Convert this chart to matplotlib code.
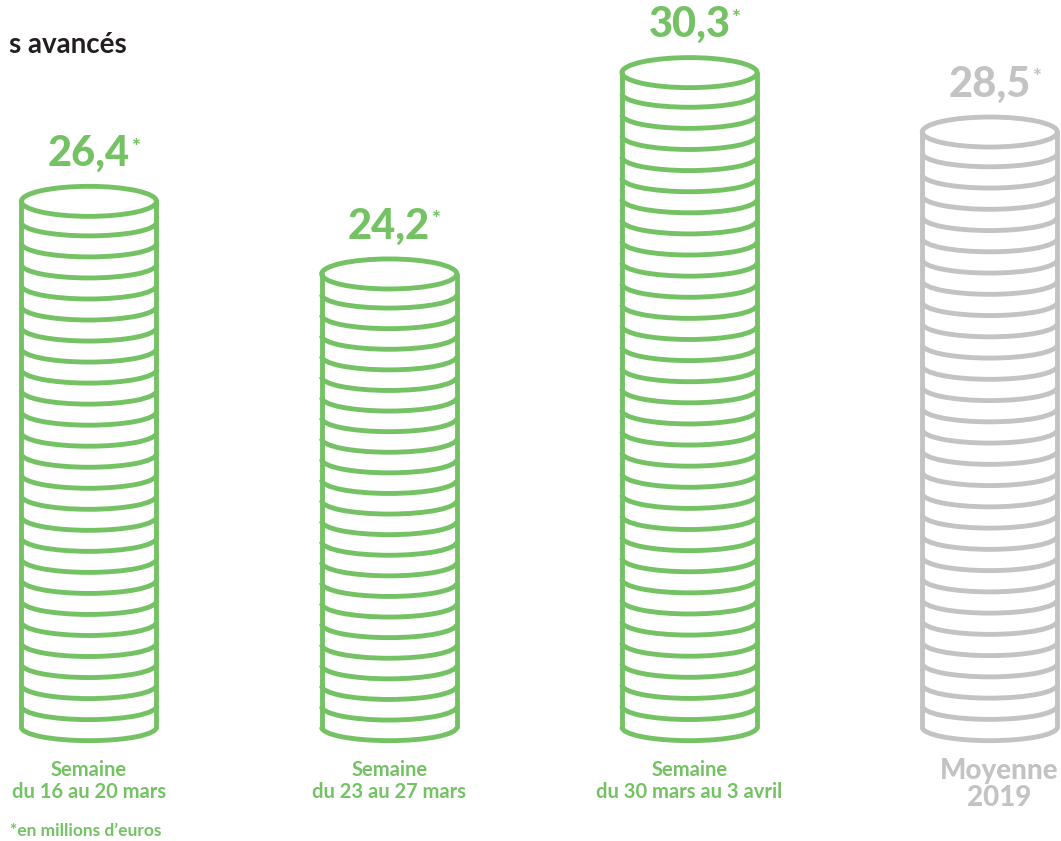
import matplotlib
matplotlib.use("Agg")
import matplotlib.pyplot as plt
from matplotlib.patches import Ellipse, Arc

# data
categories = ["Semaine\ndu 16 au 20 mars", "Semaine\ndu 23 au 27 mars",
              "Semaine\ndu 30 mars au 3 avril", "Moyenne\n2019"]
values = [26.4, 24.2, 30.3, 28.5]
value_labels = ["26,4", "24,2", "30,3", "28,5"]
is_reference = [False, False, False, True]

GREEN = "#74C264"
GREY = "#C3C3C3"

plt.rcParams['font.family'] = ['Lato', 'DejaVu Sans']

fig = plt.figure(figsize=(10.61, 8.41), dpi=100)
ax = fig.add_axes([0, 0, 1, 1])
ax.set_xlim(-0.296, 3.237)
ax.set_ylim(7.02, 32.5)
ax.axis("off")

base = 10.47       # centre of the bottom coin edge
coin_w = 0.45      # stack width (x units)
ell_h = 0.91       # ellipse height (y units)
coin_step = 0.636  # approx thickness of one coin
lw = 3.5

for i, (v, lab, cat, ref) in enumerate(zip(values, value_labels, categories, is_reference)):
    col = GREY if ref else GREEN
    n = int(round((v - base) / coin_step))
    step = (v - base) / n
    # sides
    ax.plot([i - coin_w / 2, i - coin_w / 2], [base, v], color=col, lw=lw,
            solid_capstyle="round")
    ax.plot([i + coin_w / 2, i + coin_w / 2], [base, v], color=col, lw=lw,
            solid_capstyle="round")
    # lower edge of each coin
    for k in range(n):
        ax.add_patch(Arc((i, base + k * step), coin_w, ell_h * 0.9, theta1=180,
                         theta2=360, color=col, lw=lw))
    # top face
    ax.add_patch(Ellipse((i, v), coin_w, ell_h, fill=False, edgecolor=col, lw=lw))

    # value label with asterisk
    t = ax.annotate(lab, xy=(i, v), xytext=(0, 25.5), textcoords="offset points",
                    ha="center", va="baseline", fontsize=30, fontweight="black",
                    color=col)
    ax.annotate("*", xy=(1, 1), xycoords=t, xytext=(0.5, -2),
                textcoords="offset points", ha="left", va="top",
                fontsize=15, fontweight="black", color=col)

    # category label
    if ref:
        ax.annotate(cat, xy=(i, base), xytext=(7, -22), textcoords="offset points",
                    ha="center", va="top", fontsize=20, fontweight="black",
                    color=col, linespacing=1.05)
    else:
        ax.annotate(cat, xy=(i, base), xytext=(0, -24), textcoords="offset points",
                    ha="center", va="top", fontsize=14.5, fontweight="bold",
                    color=col, linespacing=1.1)

fig.text(10 / 1061, 1 - 836 / 841, "*en millions d\u2019euros", ha="left",
         va="baseline", fontsize=12.5, fontweight="bold", color=GREEN)
fig.text(127 / 1061, 1 - 53 / 841, "s avancés", ha="right", va="baseline",
         fontsize=20, fontweight="bold", color="#231F20")

fig.savefig("out.png", dpi=100)
